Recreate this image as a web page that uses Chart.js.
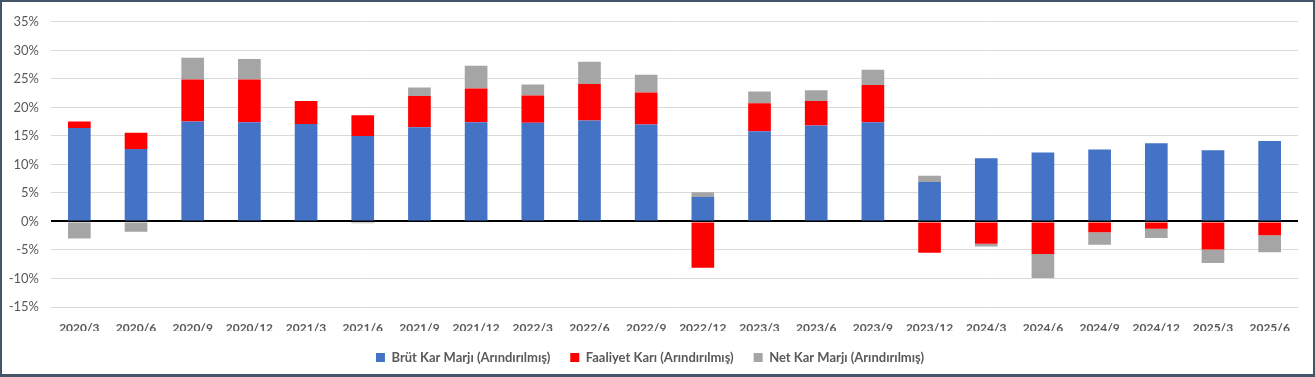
<!DOCTYPE html>
<html>
<head>
<meta charset="utf-8">
<script src="https://cdn.jsdelivr.net/npm/chart.js@4"></script>
<style>
  html, body { margin: 0; padding: 0; background: #fff; }
  #wrap {
    width: 1315px; height: 377px; box-sizing: border-box;
    border: 2px solid #44546a; border-bottom-width: 3px; position: relative;
  }
</style>
</head>
<body>
<div id="wrap"><canvas id="margin-chart"></canvas></div>
<script>
const periods = ["2020/3", "2020/6", "2020/9", "2020/12", "2021/3", "2021/6", "2021/9", "2021/12",
  "2022/3", "2022/6", "2022/9", "2022/12", "2023/3", "2023/6", "2023/9", "2023/12",
  "2024/3", "2024/6", "2024/9", "2024/12", "2025/3", "2025/6"];
const brutKar = [16.4, 12.7, 17.5, 17.4, 17.1, 15.0, 16.5, 17.4, 17.3, 17.7, 17.0, 4.3,
  15.8, 16.8, 17.4, 6.9, 11.1, 12.1, 12.6, 13.7, 12.5, 14.1];
const faaliyetKar = [1.1, 2.85, 7.4, 7.5, 4.0, 3.6, 5.5, 5.9, 4.8, 6.4, 5.6, -8.1,
  4.9, 4.3, 6.5, -5.5, -3.9, -5.7, -1.9, -1.3, -4.9, -2.4];
const netKar = [-3.0, -1.8, 3.8, 3.6, 0, -0.3, 1.5, 4.0, 1.9, 3.9, 3.1, 0.8,
  2.1, 1.9, 2.7, 1.1, -0.5, -4.2, -2.2, -1.6, -2.4, -3.0];

const ctx = document.getElementById("margin-chart");

new Chart(ctx, {
  type: "bar",
  data: {
    labels: periods,
    datasets: [
      { label: "Brüt Kar Marjı (Arındırılmış)", data: brutKar, backgroundColor: "#4472C4" },
      { label: "Faaliyet Karı (Arındırılmış)", data: faaliyetKar, backgroundColor: "#FF0000" },
      { label: "Net Kar Marjı (Arındırılmış)", data: netKar, backgroundColor: "#A5A5A5" },
    ],
  },
  options: {
    responsive: true,
    maintainAspectRatio: false,
    animation: false,
    datasets: { bar: { barPercentage: 0.4, categoryPercentage: 1.0 } },
    layout: { padding: { top: 14, right: 15, left: 0, bottom: 0 } },
    plugins: {
      tooltip: { enabled: false },
      legend: {
        position: "bottom",
        labels: {
          boxWidth: 9,
          boxHeight: 9,
          padding: 20,
          color: "#595959",
          font: { family: "Lato", size: 13, weight: "bold" },
        },
      },
    },
    scales: {
      x: {
        stacked: true,
        grid: { display: false },
        border: { display: false },
        ticks: {
          padding: 6,
          color: "#595959",
          maxRotation: 0,
          autoSkip: false,
          font: { family: "Lato", size: 12, weight: "bold" },
        },
        afterFit: (scale) => { scale.height = 24; },
      },
      y: {
        stacked: true,
        min: -15,
        max: 35,
        border: { display: false },
        grid: {
          drawTicks: false,
          color: (c) => (c.tick && c.tick.value === 0 ? "#000000" : "#d9d9d9"),
          lineWidth: (c) => (c.tick && c.tick.value === 0 ? 2 : 1),
        },
        ticks: {
          stepSize: 5,
          padding: 12,
          color: "#595959",
          font: { family: "Lato", size: 13 },
          callback: (v) => v + "%",
        },
        afterFit: (scale) => { scale.width = 49; },
      },
    },
  },
});
</script>
</body>
</html>
